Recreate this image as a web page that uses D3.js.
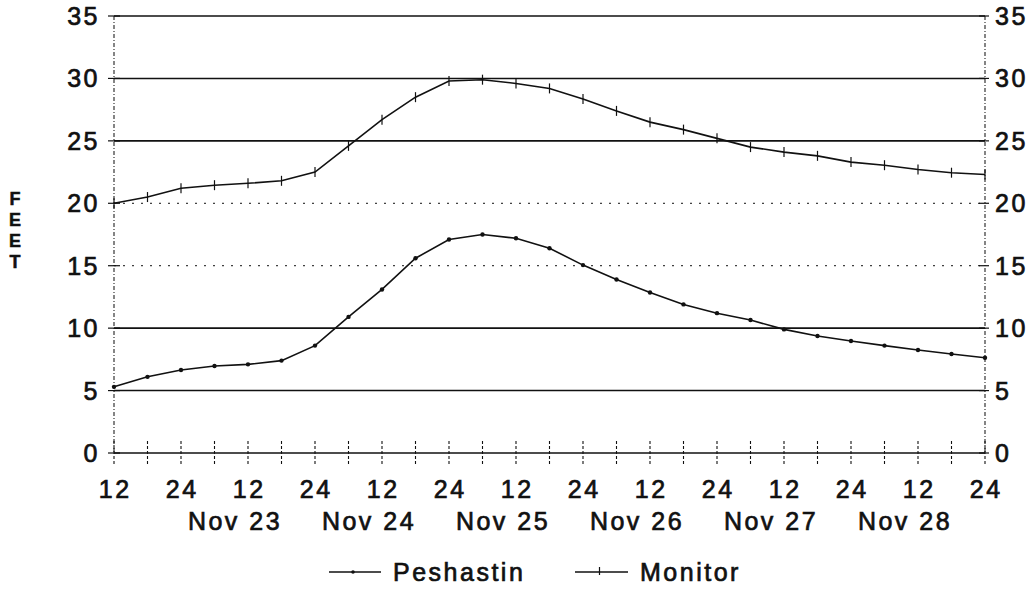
<!DOCTYPE html>
<html>
<head>
<meta charset="utf-8">
<script src="https://cdn.jsdelivr.net/npm/d3@7"></script>
<style>
  html, body { margin: 0; padding: 0; background: #fff; }
  svg text { font-family: "Liberation Sans", Arial, sans-serif; fill: #111; }
</style>
</head>
<body>
<svg id="chart" width="1035" height="592"></svg>
<script>
// ---- data ----
// observation times: hours after Nov 22, 12:00, every 6 hours
const hoursFromStart = [0,6,12,18,24,30,36,42,48,54,60,66,72,78,84,90,96,102,108,114,120,126,132,138,144,150,156];
const monitorFeet = [20.0,20.5,21.2,21.45,21.6,21.8,22.5,24.6,26.7,28.5,29.8,29.9,29.6,29.2,28.35,27.4,26.5,25.9,25.2,24.5,24.1,23.8,23.3,23.05,22.7,22.45,22.3];
const peshastinFeet = [5.3,6.1,6.65,6.97,7.1,7.4,8.6,10.9,13.1,15.6,17.1,17.5,17.2,16.4,15.05,13.9,12.85,11.9,11.2,10.65,9.9,9.37,8.97,8.6,8.25,7.93,7.63];
const xTickHours = [0,12,24,36,48,60,72,84,96,108,120,132,144,156];
const xTickLabels = ["12","24","12","24","12","24","12","24","12","24","12","24","12","24"];
const dayLabelHours = [24,48,72,96,120,144];
const dayLabels = ["Nov 23","Nov 24","Nov 25","Nov 26","Nov 27","Nov 28"];
const yTicks = [0,5,10,15,20,25,30,35];
const dottedGrid = [15,20];
const seriesNames = ["Peshastin","Monitor"];
const yTitleLetters = ["F","E","E","T"];

// ---- layout ----
const svg = d3.select("#chart");
const mLeft = 114, mRight = 985, mTop = 16, mBottom = 453;
const x = d3.scaleLinear().domain([0,156]).range([mLeft,mRight]);
const y = d3.scaleLinear().domain([0,35]).range([mBottom,mTop]);
const fontSize = 25, ls = 2.5;

// horizontal grid lines
svg.append("g").selectAll("line").data(yTicks).join("line")
  .attr("x1", mLeft).attr("x2", mRight)
  .attr("y1", d => y(d)).attr("y2", d => y(d))
  .attr("stroke", "#111")
  .attr("stroke-width", d => dottedGrid.includes(d) ? 1 : 1.6)
  .attr("stroke-dasharray", d => dottedGrid.includes(d) ? "2,7" : null);

// vertical axis lines (dash-dot)
[mLeft, mRight].forEach(px => {
  svg.append("line").attr("x1", px).attr("x2", px).attr("y1", mTop).attr("y2", mBottom)
    .attr("stroke", "#222").attr("stroke-width", 1.1).attr("stroke-dasharray", "4,2,1,2");
});

// y tick marks on axes
svg.append("g").selectAll("line").data(yTicks).join("line")
  .attr("x1", mLeft - 6).attr("x2", mLeft + 6)
  .attr("y1", d => y(d)).attr("y2", d => y(d))
  .attr("stroke", "#111").attr("stroke-width", 1.2);
svg.append("g").selectAll("line").data(yTicks).join("line")
  .attr("x1", mRight - 6).attr("x2", mRight + 4)
  .attr("y1", d => y(d)).attr("y2", d => y(d))
  .attr("stroke", "#111").attr("stroke-width", 1.2);

// y labels left & right
svg.append("g").selectAll("text").data(yTicks).join("text")
  .attr("x", 100).attr("y", d => y(d) + 9)
  .attr("text-anchor", "end")
  .attr("font-size", fontSize).attr("letter-spacing", ls)
  .attr("stroke", "#111").attr("stroke-width", 0.7)
  .text(d => d);
svg.append("g").selectAll("text").data(yTicks).join("text")
  .attr("x", 995).attr("y", d => y(d) + 9)
  .attr("text-anchor", "start")
  .attr("font-size", fontSize).attr("letter-spacing", ls)
  .attr("stroke", "#111").attr("stroke-width", 0.7)
  .text(d => d);

// x ticks every 6 hours (dotted)
svg.append("g").selectAll("line").data(hoursFromStart).join("line")
  .attr("x1", d => x(d)).attr("x2", d => x(d))
  .attr("y1", mBottom - 12).attr("y2", mBottom + 13)
  .attr("stroke", "#111").attr("stroke-width", 1.1).attr("stroke-dasharray", "3,2");

// x tick labels
svg.append("g").selectAll("text").data(xTickHours).join("text")
  .attr("x", d => x(d) + ls/2).attr("y", 498)
  .attr("text-anchor", "middle")
  .attr("font-size", fontSize).attr("letter-spacing", ls)
  .attr("stroke", "#111").attr("stroke-width", 0.7)
  .text((d,i) => xTickLabels[i]);

// day labels
svg.append("g").selectAll("text").data(dayLabelHours).join("text")
  .attr("x", d => x(d) - 13).attr("y", 530)
  .attr("text-anchor", "middle")
  .attr("font-size", fontSize).attr("letter-spacing", ls)
  .attr("stroke", "#111").attr("stroke-width", 0.7)
  .text((d,i) => dayLabels[i]);

// FEET vertical label (stacked upright letters)
svg.append("g").selectAll("text").data(yTitleLetters).join("text")
  .attr("x", 15).attr("y", (d,i) => 205 + i * 21)
  .attr("text-anchor", "middle")
  .attr("font-size", 18).attr("font-weight", "bold")
  .attr("stroke", "#111").attr("stroke-width", 0.5)
  .text(d => d);

// lines
const line = d3.line().x((d,i) => x(hoursFromStart[i])).y(d => y(d));
svg.append("path").datum(monitorFeet).attr("d", line)
  .attr("fill", "none").attr("stroke", "#111").attr("stroke-width", 1.6);
svg.append("path").datum(peshastinFeet).attr("d", line)
  .attr("fill", "none").attr("stroke", "#111").attr("stroke-width", 1.6);

// markers
svg.append("g").selectAll("line").data(monitorFeet).join("line")
  .attr("x1", (d,i) => x(hoursFromStart[i])).attr("x2", (d,i) => x(hoursFromStart[i]))
  .attr("y1", d => y(d) - 5).attr("y2", d => y(d) + 5)
  .attr("stroke", "#111").attr("stroke-width", 1.2);
svg.append("g").selectAll("circle").data(peshastinFeet).join("circle")
  .attr("cx", (d,i) => x(hoursFromStart[i])).attr("cy", d => y(d))
  .attr("r", 2.2).attr("fill", "#111");

// legend
const legend = svg.append("g");
const lg = [{x1: 329, x2: 381, tx: 393, name: seriesNames[0], marker: "dot"},
            {x1: 575, x2: 628, tx: 640, name: seriesNames[1], marker: "tick"}];
lg.forEach(l => {
  const ly = 572;
  legend.append("line").attr("x1", l.x1).attr("x2", l.x2).attr("y1", ly).attr("y2", ly)
    .attr("stroke", "#111").attr("stroke-width", 1.6);
  const mx = (l.x1 + l.x2) / 2;
  if (l.marker === "dot") {
    legend.append("circle").attr("cx", mx - 2).attr("cy", ly).attr("r", 1.8).attr("fill", "#111");
  } else {
    legend.append("line").attr("x1", mx - 2).attr("x2", mx - 2).attr("y1", ly - 5).attr("y2", ly + 3)
      .attr("stroke", "#111").attr("stroke-width", 1.2);
  }
  legend.append("text").attr("x", l.tx).attr("y", ly + 9)
    .attr("font-size", fontSize).attr("letter-spacing", ls)
    .attr("stroke", "#111").attr("stroke-width", 0.7)
    .text(l.name);
});
</script>
</body>
</html>
